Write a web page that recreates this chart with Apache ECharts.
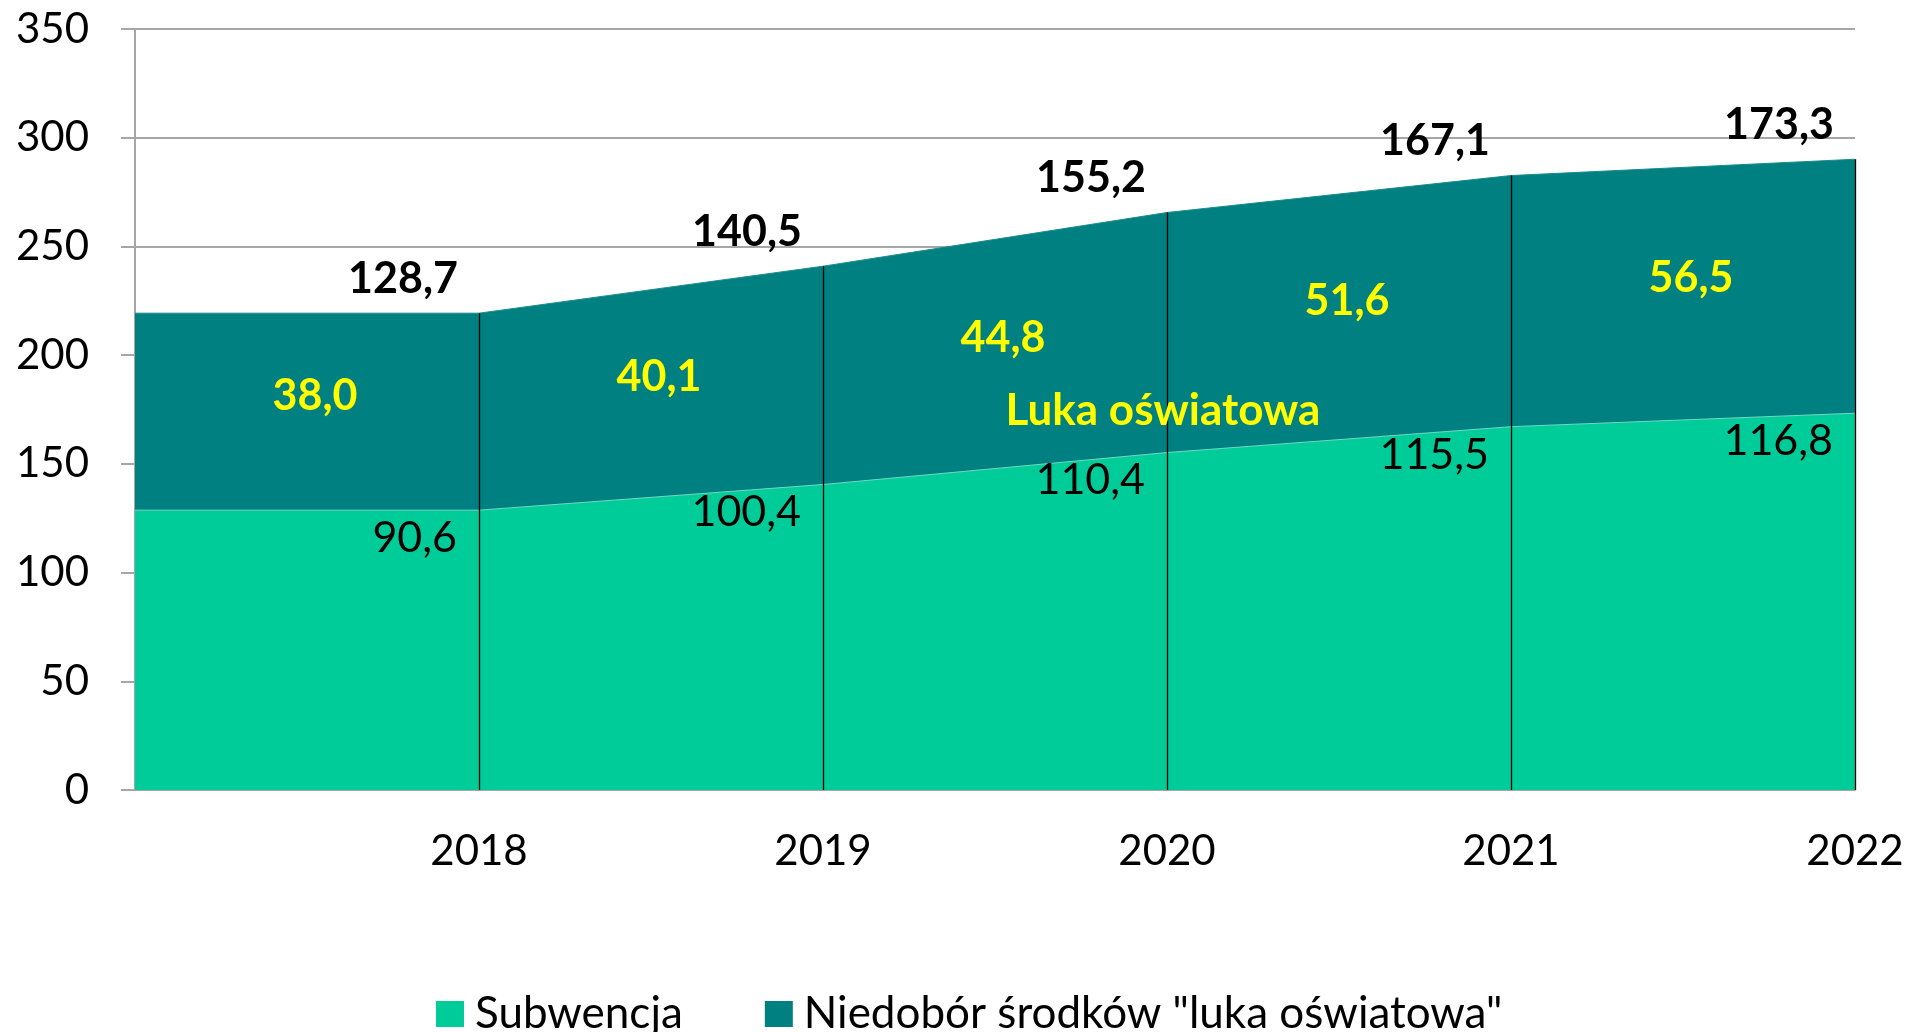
<!DOCTYPE html>
<html>
<head>
<meta charset="utf-8">
<script src="https://cdn.jsdelivr.net/npm/echarts@6/dist/echarts.min.js"></script>
<style>
  html, body { margin: 0; padding: 0; background: #fff; }
  #main { width: 1919px; height: 1032px; }
</style>
</head>
<body>
<div id="main"></div>
<script>
// dane z wykresu
var years = [2018, 2019, 2020, 2021, 2022];
var subwencja = [128.7, 140.5, 155.2, 167.1, 173.3];
var niedobor = [90.6, 100.4, 110.4, 115.5, 116.8];
var luka = [38.0, 40.1, 44.8, 51.6, 56.5];
var yTicks = [0, 50, 100, 150, 200, 250, 300, 350];
var legendNames = ['Subwencja', 'Niedobór środków "luka oświatowa"'];

var FONT = 'Lato';
var xMin = years[0] - 1;

function fmt(v) {
  return v.toFixed(1).replace('.', ',');
}

// pierwszy odcinek wykresu (od osi do 2018) ma wartości z 2018
function withStart(arr) {
  var out = [[xMin, arr[0]]];
  for (var i = 0; i < years.length; i++) out.push([years[i], arr[i]]);
  return out;
}

// suma obu pól (ciemne pole rysowane pod zielonym)
var totals = years.map(function (y, i) { return subwencja[i] + niedobor[i]; });

// pionowe linie przy latach
var dropLines = years.map(function (y, i) {
  return [{ coord: [y, 0] }, { coord: [y, totals[i]] }];
});

// środek odcinka przed danym rokiem, w połowie wysokości ciemnego pola
function midPoints() {
  var out = [];
  for (var i = 0; i < years.length; i++) {
    var s0 = i === 0 ? subwencja[0] : subwencja[i - 1];
    var t0 = i === 0 ? totals[0] : totals[i - 1];
    var s = (s0 + subwencja[i]) / 2;
    var t = (t0 + totals[i]) / 2;
    out.push({ value: [years[i] - 0.5, (s + t) / 2], lab: luka[i] });
  }
  return out;
}

var chart = echarts.init(document.getElementById('main'));

var hiddenSymbol = { color: 'rgba(0,0,0,0)', opacity: 1 };

var option = {
  animation: false,
  backgroundColor: '#fff',
  grid: { left: 135, right: 64, top: 29, bottom: 242 },
  legend: {
    data: legendNames,
    left: 431,
    top: 987,
    itemWidth: 28,
    itemHeight: 26,
    itemGap: 82,
    icon: 'rect',
    textStyle: { fontFamily: FONT, fontSize: 44, color: '#000', padding: [0, 0, 0, 6] }
  },
  xAxis: {
    type: 'value',
    min: xMin,
    max: years[years.length - 1],
    interval: 1,
    splitLine: { show: false },
    axisTick: { show: false },
    axisLine: { show: true, lineStyle: { color: '#a6a6a6', width: 2 } },
    axisLabel: {
      margin: 40,
      fontFamily: FONT,
      fontSize: 42,
      color: '#000',
      formatter: function (v) { return years.indexOf(v) >= 0 ? String(v) : ''; }
    }
  },
  yAxis: {
    type: 'value',
    min: yTicks[0],
    max: yTicks[yTicks.length - 1],
    interval: 50,
    axisLine: { show: true, lineStyle: { color: '#a6a6a6', width: 2 } },
    axisTick: { show: true, length: 14, lineStyle: { color: '#a6a6a6', width: 2 } },
    splitLine: { show: true, lineStyle: { color: '#a6a6a6', width: 2 } },
    axisLabel: { margin: 46, fontFamily: FONT, fontSize: 42, color: '#000' }
  },
  series: [
    {
      name: legendNames[1],
      type: 'line',
      data: withStart(totals),
      showSymbol: false,
      symbol: 'none',
      itemStyle: { color: '#008080' },
      lineStyle: { width: 1, color: '#1a8c8c' },
      areaStyle: { color: '#008080', opacity: 1 },
      markLine: {
        silent: true,
        symbol: 'none',
        label: { show: false },
        lineStyle: { color: '#000', width: 1.3, type: 'solid' },
        data: dropLines
      },
      z: 2
    },
    {
      name: legendNames[0],
      type: 'line',
      data: withStart(subwencja),
      showSymbol: false,
      symbol: 'none',
      itemStyle: { color: '#00CC99' },
      lineStyle: { width: 1, color: '#6fd9c4' },
      areaStyle: { color: '#00CC99', opacity: 1 },
      z: 3
    },
    {
      // pogrubione etykiety nad wykresem
      type: 'scatter',
      silent: true,
      symbolSize: 1,
      itemStyle: hiddenSymbol,
      data: years.map(function (y, i) { return { value: [y, totals[i]], lab: subwencja[i] }; }),
      label: {
        show: true,
        position: 'inside',
        offset: [-76, -34],
        fontFamily: FONT,
        fontSize: 43,
        fontWeight: 'bold',
        color: '#000',
        formatter: function (p) { return fmt(p.data.lab); }
      },
      z: 6
    },
    {
      // etykiety pod górną krawędzią zielonego pola
      type: 'scatter',
      silent: true,
      symbolSize: 1,
      itemStyle: hiddenSymbol,
      data: years.map(function (y, i) { return { value: [y, subwencja[i]], lab: niedobor[i] }; }),
      label: {
        show: true,
        position: 'inside',
        align: 'right',
        offset: [-22, 28],
        fontFamily: FONT,
        fontSize: 43,
        color: '#000',
        formatter: function (p) { return fmt(p.data.lab); }
      },
      z: 6
    },
    {
      // żółte wartości luki
      type: 'scatter',
      silent: true,
      symbolSize: 1,
      itemStyle: hiddenSymbol,
      data: midPoints(),
      label: {
        show: true,
        position: 'inside',
        offset: [8, -16],
        fontFamily: FONT,
        fontSize: 43,
        fontWeight: 'bold',
        color: '#FFFF00',
        formatter: function (p) { return fmt(p.data.lab); }
      },
      z: 6
    }
  ],
  graphic: [
    {
      type: 'text',
      x: 1163,
      y: 411,
      z: 10,
      style: {
        text: 'Luka oświatowa',
        fontFamily: FONT,
        fontSize: 44,
        fontWeight: 'bold',
        fill: '#FFFF00',
        align: 'center',
        verticalAlign: 'middle'
      }
    }
  ]
};

chart.setOption(option);
</script>
</body>
</html>
